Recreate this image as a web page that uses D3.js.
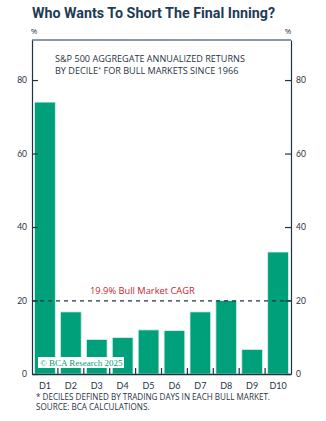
<!DOCTYPE html>
<html>
<head>
<meta charset="utf-8">
<script src="https://cdn.jsdelivr.net/npm/d3@7"></script>
<style>
    body { margin: 0; background: #fff; }
    svg { display: block; }
</style>
</head>
<body>
<script>
// deciles and their annualized returns (%)
const deciles = ["D1", "D2", "D3", "D4", "D5", "D6", "D7", "D8", "D9", "D10"];
const returns = [74, 16.9, 9.4, 9.9, 12.0, 11.8, 16.9, 20.0, 6.7, 33.2];
const cagr = 19.9;
const yTicks = [0, 20, 40, 60, 80];

const width = 326, height = 421;
const plot = { left: 32, right: 291, top: 40, bottom: 374 };
const ink = "#1f3344";
const green = "#00a07a";

const svg = d3.select("body").append("svg")
    .attr("width", width)
    .attr("height", height)
    .style("font-family", "'Open Sans', sans-serif");

let x = d3.scaleBand()
    .domain(deciles)
    .range([plot.left, plot.right])
    .paddingInner(0.2)
    .paddingOuter(0.1);

let y = d3.scaleLinear()
    .domain([0, 90.9])
    .range([plot.bottom, plot.top]);

// title
svg.append("text")
    .attr("x", 32).attr("y", 18)
    .attr("fill", "#1d3b55")
    .attr("textLength", 243)
    .attr("lengthAdjust", "spacingAndGlyphs")
    .style("font-family", "Roboto, sans-serif")
    .style("font-weight", 700)
    .style("font-size", "15px")
    .text("Who Wants To Short The Final Inning?");

// unit labels
svg.append("text").attr("x", 34).attr("y", 34).attr("text-anchor", "middle")
    .attr("fill", ink).style("font-size", "8px").text("%");
svg.append("text").attr("x", 288).attr("y", 34).attr("text-anchor", "middle")
    .attr("fill", ink).style("font-size", "8px").text("%");

// bars
svg.append("g").selectAll("rect")
    .data(returns)
    .join("rect")
    .attr("x", (d, i) => x(deciles[i]))
    .attr("y", d => y(d))
    .attr("width", x.bandwidth())
    .attr("height", d => y(0) - y(d))
    .attr("fill", green)
    .attr("stroke", "#d8efe6")
    .attr("stroke-width", 0.8);

// frame top
svg.append("line")
    .attr("x1", plot.left).attr("x2", plot.right)
    .attr("y1", plot.top).attr("y2", plot.top)
    .attr("stroke", ink).attr("stroke-width", 1.2);

// left and right axes, ticks pointing inward
let yLeft = svg.append("g")
    .attr("transform", "translate(" + plot.left + ",0)")
    .call(d3.axisLeft(y).tickValues(yTicks).tickSizeInner(-6).tickSizeOuter(0).tickPadding(5));
let yRight = svg.append("g")
    .attr("transform", "translate(" + plot.right + ",0)")
    .call(d3.axisRight(y).tickValues(yTicks).tickSizeInner(-6).tickSizeOuter(0).tickPadding(5));
[yLeft, yRight].forEach(g => {
    g.select(".domain").attr("stroke", ink).attr("stroke-width", 1.2);
    g.selectAll(".tick line").attr("stroke", ink).attr("stroke-width", 1.2);
    g.selectAll(".tick text").attr("fill", ink).style("font-size", "8.5px")
        .style("font-family", "Lato, sans-serif");
});

// cagr reference line
svg.append("line")
    .attr("x1", plot.left).attr("x2", plot.right)
    .attr("y1", y(cagr)).attr("y2", y(cagr))
    .attr("stroke", ink).attr("stroke-width", 1.3)
    .attr("stroke-dasharray", "4,4");
svg.append("text")
    .attr("x", 90).attr("y", y(cagr) - 7)
    .attr("fill", "#c4262e")
    .style("font-size", "9.3px")
    .text(cagr + "% Bull Market CAGR");

// x axis with small separators between bars
let xAxis = svg.append("g")
    .attr("transform", "translate(0," + plot.bottom + ")")
    .call(d3.axisBottom(x).tickSize(0).tickPadding(9));
xAxis.select(".domain").attr("stroke", ink).attr("stroke-width", 1.6);
xAxis.selectAll(".tick text").attr("fill", ink).style("font-size", "9px")
    .style("font-family", "Lato, sans-serif");
svg.append("g").selectAll("line")
    .data(deciles.slice(1))
    .join("line")
    .attr("x1", d => x(d) - x.step() * x.paddingInner() / 2)
    .attr("x2", d => x(d) - x.step() * x.paddingInner() / 2)
    .attr("y1", plot.bottom).attr("y2", plot.bottom - 6)
    .attr("stroke", ink).attr("stroke-width", 1.2);

// chart caption
let cap = svg.append("text")
    .attr("fill", ink)
    .style("font-size", "9.1px");
cap.append("tspan").attr("x", 55).attr("y", 62).text("S&P 500 AGGREGATE ANNUALIZED RETURNS");
cap.append("tspan").attr("x", 55).attr("y", 74).text("BY DECILE");
cap.append("tspan").attr("dy", -3).style("font-size", "5.5px").text("*");
cap.append("tspan").attr("dy", 3).text(" FOR BULL MARKETS SINCE 1966");

// copyright tag
svg.append("rect")
    .attr("x", 38).attr("y", 357).attr("width", 86).attr("height", 11)
    .attr("fill", "#fff");
svg.append("text")
    .attr("x", 40).attr("y", 366)
    .attr("fill", green)
    .style("font-family", "'Liberation Serif', serif")
    .style("font-size", "9px")
    .text("© BCA Research 2025");

// footnotes
let foot = svg.append("text")
    .attr("fill", ink)
    .style("font-size", "8.1px");
foot.append("tspan").attr("x", 36).attr("y", 400).text("* DECILES DEFINED BY TRADING DAYS IN EACH BULL MARKET.");
foot.append("tspan").attr("x", 36).attr("y", 410).text("SOURCE: BCA CALCULATIONS.");
</script>
</body>
</html>
